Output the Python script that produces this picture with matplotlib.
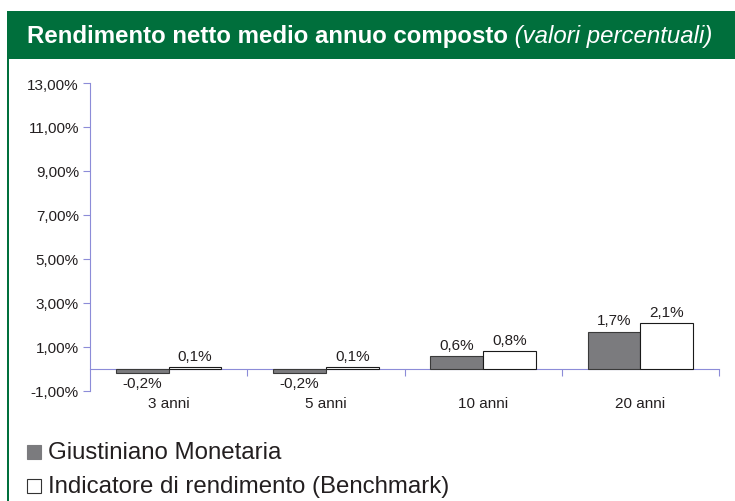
import matplotlib
matplotlib.use('Agg')
import matplotlib.pyplot as plt
import matplotlib.transforms as mtransforms
from matplotlib.patches import Rectangle
import numpy as np

# Data
categories = ['3 anni', '5 anni', '10 anni', '20 anni']
fondo = [-0.2, -0.2, 0.6, 1.7]
benchmark = [0.1, 0.1, 0.8, 2.1]
series_names = ['Giustiniano Monetaria', 'Indicatore di rendimento (Benchmark)']
yticks = [-1, 1, 3, 5, 7, 9, 11, 13]

GREEN = '#006f3c'
AXIS = '#8c8cd8'
GREY = '#7b7b7e'
TXT = '#231f20'
FS = 11

plt.rcParams['font.family'] = ['Liberation Sans', 'DejaVu Sans']

fig = plt.figure(figsize=(7.35, 5.02), dpi=100)
W, H = 735, 502

def fx(px):
    return px / W

def fy(py):
    return 1 - py / H

# header band + left border
fig.patches.append(Rectangle((fx(7), fy(60)), 1, (60 - 12) / H, transform=fig.transFigure,
                             facecolor=GREEN, edgecolor='none', zorder=0))
fig.patches.append(Rectangle((fx(7), 0), 2 / W, fy(60), transform=fig.transFigure,
                             facecolor=GREEN, edgecolor='none', zorder=0))
bold_txt = fig.text(fx(27), fy(37), 'Rendimento netto medio annuo composto', color='white',
                    fontsize=17.3, fontweight='bold', va='center', ha='left')
fig.canvas.draw()
bb = bold_txt.get_window_extent()
fig.text(bb.x1 / W, fy(37), ' (valori percentuali)', color='white', fontsize=17.3,
         style='italic', va='center', ha='left')

ax = fig.add_axes([fx(90), fy(392), fx(719) - fx(90), (392 - 84) / H])
x = np.arange(len(categories))
bw = 0.335
b1 = ax.bar(x - bw / 2, fondo, bw, color=GREY, edgecolor='#3a3a3a', linewidth=0.8, zorder=3)
b2 = ax.bar(x + bw / 2, benchmark, bw, color='white', edgecolor='#1a1a1a', linewidth=0.8, zorder=3)

ax.set_xlim(-0.5, len(categories) - 0.5)
ax.set_ylim(-1, 13)
ax.set_yticks(yticks)
ax.set_yticklabels([f'{v:.2f}%'.replace('.', ',') for v in yticks])
ax.tick_params(axis='y', direction='out', length=5, color=AXIS, labelsize=FS,
               labelcolor=TXT, pad=3)

ax.spines['top'].set_visible(False)
ax.spines['right'].set_visible(False)
ax.spines['left'].set_color(AXIS)
ax.spines['bottom'].set_color(AXIS)
ax.spines['bottom'].set_position(('data', 0))
ax.set_xticks(x + 0.5)
ax.set_xticklabels([])
ax.tick_params(axis='x', direction='out', length=5, color=AXIS)

trans = mtransforms.blended_transform_factory(ax.transData, ax.transAxes)
for xi, lab in zip(x, categories):
    ax.text(xi, -0.04, lab, transform=trans, ha='center', va='center', fontsize=FS, color=TXT)

def fmt(v):
    return f'{v:.1f}%'.replace('.', ',')

for bars, vals in [(b1, fondo), (b2, benchmark)]:
    for b, v in zip(bars, vals):
        cx = b.get_x() + b.get_width() / 2
        if v >= 0:
            ax.annotate(fmt(v), (cx, v), xytext=(0, 3), textcoords='offset points',
                        ha='center', va='bottom', fontsize=FS, color=TXT)
        else:
            ax.annotate(fmt(v), (cx, v), xytext=(0, -2), textcoords='offset points',
                        ha='center', va='top', fontsize=FS, color=TXT)

# legend
leg_y = [453, 487]
styles = [dict(facecolor=GREY, edgecolor=GREY), dict(facecolor='white', edgecolor='#333333')]
for name, yy, st in zip(series_names, leg_y, styles):
    fig.patches.append(Rectangle((fx(27), fy(yy + 7)), 14 / W, 14 / H, transform=fig.transFigure,
                                 linewidth=0.8, **st))
    fig.text(fx(48), fy(yy), name, fontsize=17.3, color=TXT, va='center', ha='left')

fig.savefig('out.png', dpi=100, facecolor='white')
